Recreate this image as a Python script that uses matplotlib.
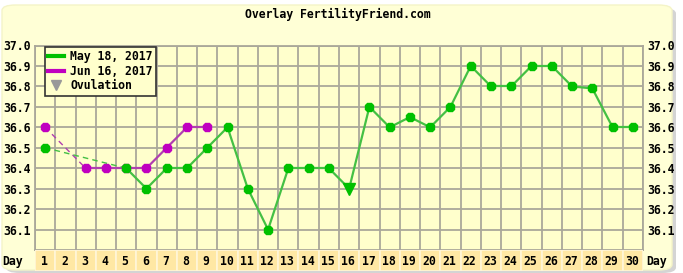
import matplotlib
matplotlib.use('Agg')
import matplotlib.pyplot as plt
from matplotlib.patches import FancyBboxPatch, Rectangle
from matplotlib.lines import Line2D

# Données (None = jour sans température)
days = list(range(1, 31))
may18 = [36.5, None, None, None, 36.4, 36.3, 36.4, 36.4, 36.5, 36.6,
         36.3, 36.1, 36.4, 36.4, 36.4, 36.3, 36.7, 36.6, 36.65, 36.6,
         36.7, 36.9, 36.8, 36.8, 36.9, 36.9, 36.8, 36.79, 36.6, 36.6]
jun16 = [36.6, None, 36.4, 36.4, 36.4, 36.4, 36.5, 36.6, 36.6]
ovulation_day = 16
series_labels = ['May 18, 2017', 'Jun 16, 2017']
yticks = [36.1, 36.2, 36.3, 36.4, 36.5, 36.6, 36.7, 36.8, 36.9, 37.0]

font = {'family': 'DejaVu Sans Mono', 'weight': 'bold', 'size': 8.3}
W, H = 683, 273

fig = plt.figure(figsize=(W / 100, H / 100), dpi=100)
fig.patch.set_facecolor('white')

# panneau arrondi + ombre
shadow = FancyBboxPatch((6 / W, 0 / H), 670 / W, 265 / H, boxstyle='round,pad=0,rounding_size=0.02',
                        transform=fig.transFigure, facecolor='#b8b8b8', edgecolor='none', alpha=0.6,
                        zorder=-10)
panel = FancyBboxPatch((2 / W, 3 / H), 670 / W, 265 / H, boxstyle='round,pad=0,rounding_size=0.02',
                       transform=fig.transFigure, facecolor='#ffffd6', edgecolor='#f4f4c8', zorder=-9)
fig.patches.extend([shadow, panel])

left, right = 35 / W, 643 / W
bottom, top = 1 - 250 / H, 1 - 45.5 / H
ax = fig.add_axes([left, bottom, right - left, top - bottom])
ax.set_facecolor('#ffffcc')
ax.set_xlim(0.5, 30.5)
ax.set_ylim(36.0, 37.0)
ax.set_xticks([d + 0.5 for d in range(0, 31)], minor=False)
ax.set_xticklabels([])
ax.set_yticks(yticks)
ax.set_yticklabels(['%.1f' % v for v in yticks], fontdict=font)
ax.tick_params(axis='both', length=0)
ax.tick_params(axis='y', pad=3, labelright=True, labelleft=True)
ax.grid(True, color='#aaa89a', linewidth=1.3)
ax.set_axisbelow(True)
for s in ax.spines.values():
    s.set_color('#aaa89a')
    s.set_linewidth(1.3)


def draw_series(values, line_col, mark_col, ovu=None):
    pts = [(d, v) for d, v in zip(days, values) if v is not None]
    for (d0, v0), (d1, v1) in zip(pts[:-1], pts[1:]):
        if d1 - d0 == 1:
            ax.plot([d0, d1], [v0, v1], color=line_col, lw=1.6, zorder=3)
        else:
            ax.plot([d0, d1], [v0, v1], color=line_col, lw=1.0, ls=(0, (4, 3)), zorder=3)
    xs = [d for d, v in pts if d != ovu]
    ys = [v for d, v in pts if d != ovu]
    ax.plot(xs, ys, ls='none', marker='8', ms=7, color=mark_col, zorder=4)
    if ovu is not None:
        ax.plot([ovu], [values[ovu - 1]], ls='none', marker='v', ms=9, color=mark_col, zorder=4)


draw_series(jun16, '#b040b0', '#c000c0')
draw_series(may18, '#44c044', '#00c000', ovu=ovulation_day)

handles = [Line2D([], [], color='#00c000', lw=3),
           Line2D([], [], color='#c000c0', lw=3),
           Line2D([], [], color='#999999', ls='none', marker='v', ms=7)]
leg = ax.legend(handles, series_labels + ['Ovulation'], loc='upper left', bbox_to_anchor=(0.016, 0.995),
                prop=font, frameon=True, fancybox=False, handlelength=1.4, handletextpad=0.5,
                borderpad=0.3, labelspacing=0.15, borderaxespad=0.0)
leg.get_frame().set_facecolor('#ffffcc')
leg.get_frame().set_edgecolor('#333333')
leg.get_frame().set_linewidth(1.2)
leg.get_frame().set_alpha(1)

# rangée des jours
dax = fig.add_axes([left, 1 - 271 / H, right - left, 21 / H])
dax.set_xlim(0.5, 30.5)
dax.set_ylim(0, 1)
dax.axis('off')
for d in days:
    dax.add_patch(Rectangle((d - 0.5, 0), 1, 1, facecolor='#ffe8a4', edgecolor='#fff6d8', lw=1.2))
    dax.text(d - 0.05, 0.45, str(d), ha='center', va='center', fontdict=font)
fig.text(2 / W, 1 - 261 / H, 'Day', ha='left', va='center', fontdict=font)
fig.text(646 / W, 1 - 261 / H, 'Day', ha='left', va='center', fontdict=font)

fig.text(338 / W, 1 - 14 / H, 'Overlay FertilityFriend.com', ha='center', va='center', fontdict=font)

plt.savefig('out.png', dpi=100)
